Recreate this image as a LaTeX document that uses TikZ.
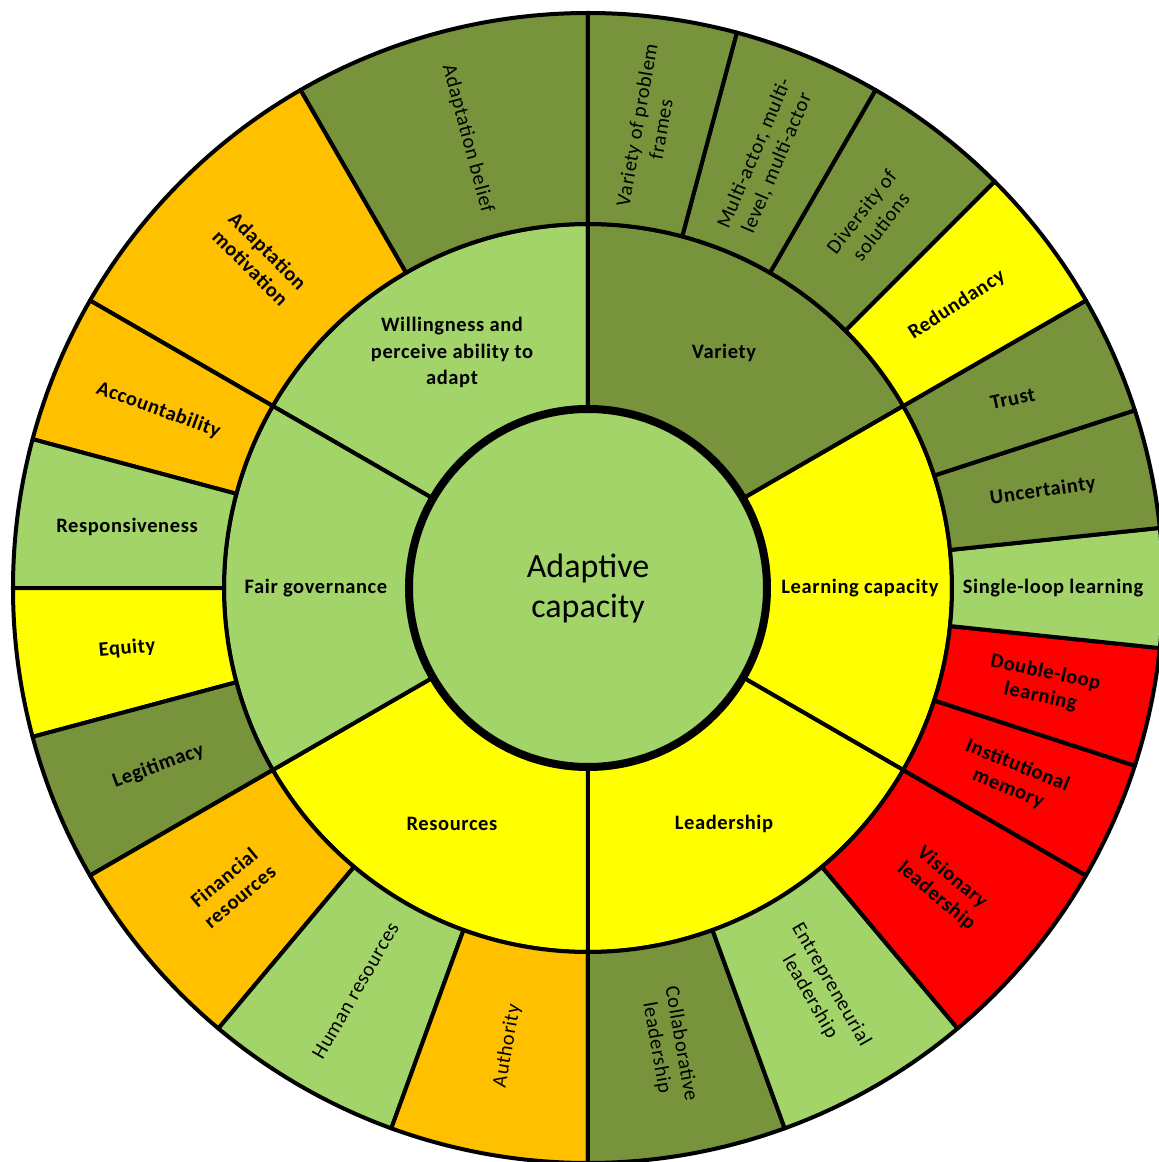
\documentclass[tikz,border=0pt]{standalone}
\usepackage{fontspec}
\setmainfont{Carlito}
\newfontfamily\lblfont[LetterSpace=3]{Carlito}
\definecolor{cOlive}{HTML}{77933C}
\definecolor{cLight}{HTML}{A2D46A}
\definecolor{cOrange}{HTML}{FFC000}
\definecolor{cYellow}{HTML}{FFFF00}
\definecolor{cRed}{HTML}{FF0000}
\tikzset{
  segline/.style={draw=black, line width=4pt, line join=round},
  lblb/.style={align=center, text=black, inner sep=0pt, font=\lblfont\fontsize{20.5}{24.5}\selectfont\bfseries},
  lblr/.style={align=center, text=black, inner sep=0pt, font=\lblfont\fontsize{20.5}{24.5}\selectfont},
  midlbl/.style={align=center, text=black, inner sep=0pt, font=\lblfont\fontsize{20.5}{26.5}\selectfont\bfseries},
  centerlbl/.style={align=center, text=black, inner sep=0pt, font=\fontsize{34}{40}\selectfont}
}
% #1 name, #2 colour, #3 start angle, #4 end angle, #5 rotation, #6 label style, #7 text
\newcommand\oseg[7]{%
  \filldraw[segline, fill=#2] (#3:364pt) arc[start angle=#3, end angle=#4, radius=364pt]
    -- (#4:575pt) arc[start angle=#4, end angle=#3, radius=575pt] -- cycle;
  \pgfmathsetmacro\segmid{(#3+#4)/2}
  \node[#6, rotate=#5] (#1) at (\segmid:465pt) {#7};
}
% #1 name, #2 colour, #3 start angle, #4 end angle, #5 text
\newcommand\mseg[5]{%
  \filldraw[segline, fill=#2] (#3:179pt) arc[start angle=#3, end angle=#4, radius=179pt]
    -- (#4:364pt) arc[start angle=#4, end angle=#3, radius=364pt] -- cycle;
  \pgfmathsetmacro\segmid{(#3+#4)/2}
  \node[midlbl] (#1) at (\segmid:272pt) {#5};
}
\begin{document}
\begin{tikzpicture}
\fill[white] (-588pt,-574pt) rectangle (571pt,588pt);
\useasboundingbox (-588pt,-574pt) rectangle (571pt,588pt);
% middle ring
\mseg{will}{cLight}{90}{150}{Willingness and\\perceive ability to\\adapt}
\mseg{var}{cOlive}{30}{90}{Variety}
\mseg{learn}{cYellow}{-30}{30}{Learning capacity}
\mseg{lead}{cYellow}{-90}{-30}{Leadership}
\mseg{res}{cYellow}{-150}{-90}{Resources}
\mseg{fair}{cLight}{150}{210}{Fair governance}
% outer ring
\oseg{belief}{cOlive}{90}{120}{-75}{lblr}{Adaptation belief}
\oseg{motiv}{cOrange}{120}{150}{-45}{lblb}{Adaptation\\motivation}
\oseg{account}{cOrange}{150}{165}{-20}{lblb}{Accountability}
\oseg{respons}{cLight}{165}{180}{0}{lblb}{Responsiveness}
\oseg{equity}{cYellow}{180}{195}{5}{lblb}{Equity}
\oseg{legit}{cOlive}{195}{210}{20}{lblb}{Legitimacy}
\oseg{financ}{cOrange}{210}{230}{40}{lblb}{Financial\\resources}
\oseg{human}{cLight}{230}{250}{60}{lblr}{Human resources}
\oseg{author}{cOrange}{250}{270}{80}{lblr}{Authority}
\oseg{collab}{cOlive}{270}{290}{-80}{lblr}{Collaborative\\leadership}
\oseg{entre}{cLight}{290}{310}{-60}{lblr}{Entrepreneurial\\leadership}
\oseg{vision}{cRed}{310}{330}{-40}{lblb}{Visionary\\leadership}
\oseg{instit}{cRed}{330}{342}{-22}{lblb}{Institutional\\memory}
\oseg{double}{cRed}{342}{354}{-12}{lblb}{Double-loop\\learning}
\oseg{single}{cLight}{-6}{6}{0}{lblb}{Single-loop learning}
\oseg{uncert}{cOlive}{6}{18}{8}{lblb}{Uncertainty}
\oseg{trust}{cOlive}{18}{30}{12}{lblb}{Trust}
\oseg{redund}{cYellow}{30}{45}{33}{lblb}{Redundancy}
\oseg{divers}{cOlive}{45}{60}{52}{lblr}{Diversity of\\solutions}
\oseg{multi}{cOlive}{60}{75}{67}{lblr}{Multi-actor, multi-\\level, multi-actor}
\oseg{problem}{cOlive}{75}{90}{80}{lblr}{Variety of problem\\frames}
% centre
\filldraw[fill=cLight, draw=black, line width=8pt] (0,0) circle[radius=179pt];
\node[centerlbl] (centre) at (0,0) {Adaptive\\capacity};
\end{tikzpicture}
\end{document}
